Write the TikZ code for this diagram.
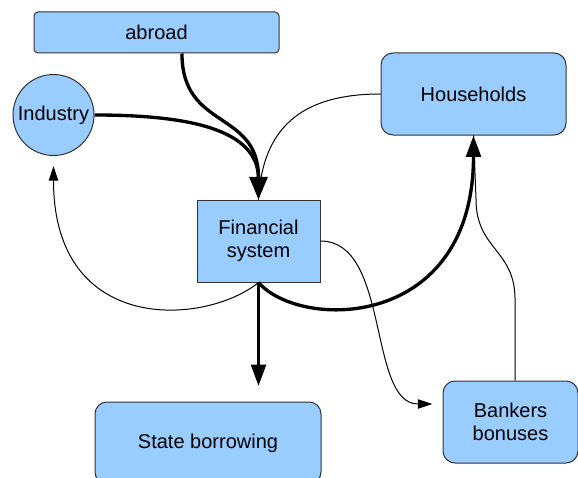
\documentclass[tikz,border=0pt]{standalone}
\usepackage{fontspec}
\setmainfont{Liberation Sans}
\usepackage{tikz}
\usetikzlibrary{arrows.meta}

\definecolor{boxBlue}{HTML}{99CCFF}

\begin{document}
\begin{tikzpicture}[x=0.75pt,y=0.75pt]
               \tikzstyle{myBox}=[draw=black!80, fill=boxBlue, line width=0.75pt, align=center, inner sep=0pt, font=\fontsize{15}{17.5}\selectfont]
               \tikzstyle{myRnd}=[myBox, rounded corners=9pt]
               \tikzstyle{myCir}=[myBox, circle, minimum size=60.75pt]
               \tikzstyle{flowThick}=[line width=2.5pt, -{Triangle[length=16pt,width=11pt]}]
               \tikzstyle{flowThin}=[line width=0.75pt, -{Triangle[length=11pt,width=7pt]}]

               \useasboundingbox (0,0) rectangle (578,-478);

               \node[myRnd, rounded corners=3pt, minimum width=183.75pt, minimum height=30.75pt] (abroad) at (156.5,-32.5) {abroad};
               \node[myCir] (industry) at (53.5,-115) {Industry};
               \node[myRnd, minimum width=138.75pt, minimum height=61.5pt] (households) at (473.5,-94) {Households};
               \node[myBox, minimum width=92.25pt, minimum height=61.5pt] (fin) at (258.5,-241) {Financial\\system};
               \node[myRnd, minimum width=169.5pt, minimum height=61.5pt] (state) at (208,-443) {State borrowing};
               \node[myRnd, minimum width=101.25pt, minimum height=61.5pt] (bankers) at (510.5,-422) {Bankers\\bonuses};

               \coordinate (stateTip) at (258.5,-386);

               % into the financial system
               \draw[line width=0.75pt] (households.west) .. controls +(-81,0) and +(4,70) .. (fin.north);
               \draw[flowThick] (industry.east) .. controls +(95,0) and +(0,70) .. (fin.north);
               \draw[flowThick, -{Triangle[length=17pt,width=13.5pt]}] ([xshift=19.1pt]abroad.south) .. controls +(0,-77) and +(0,90) .. (fin.north);

               % out of it
               \draw[flowThin] (fin.south) .. controls +(-53,-43) and +(0,-170) .. ([yshift=-7.5pt]industry.south);
               \draw[flowThick] (fin.south) -- (stateTip);
               \draw[line width=0.75pt] ([xshift=3.4pt]bankers.north) -- ++(0,81) .. controls +(0,50) and +(0,-50) .. ++(-39,100) -- (households.south);
               \draw[flowThick] (fin.south) .. controls +(42,-48) and +(0,-195) .. (households.south);
               \draw[flowThin] (fin.east) .. controls +(70,0) and +(-65,0) .. ([shift={(-10,18)}]bankers.west);
            \end{tikzpicture}
\end{document}
